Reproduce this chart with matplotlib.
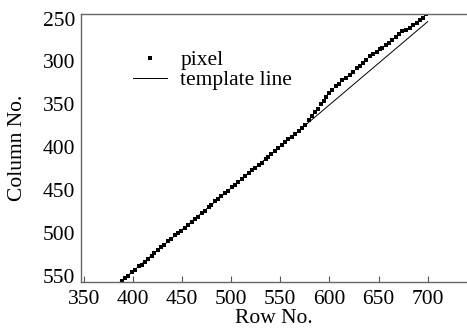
import numpy as np
import matplotlib.pyplot as plt

# pixel positions (row, column)
pixel_row = [389, 392, 395, 399, 402, 406, 409, 412, 415, 419, 422, 426, 429,
             432, 436, 439, 443, 446, 449, 453, 456, 460, 463, 466, 470, 473,
             477, 480, 484, 487, 490, 494, 497, 501, 504, 507, 511, 514, 518,
             521, 524, 528, 531, 535, 538, 541, 545, 548, 552, 555, 558, 562,
             565, 569, 572, 575, 579, 582, 585, 588, 591, 594, 597, 600, 603,
             607, 610, 613, 617, 621, 624, 628, 631, 634, 637, 641, 644, 648,
             651, 654, 658, 661, 664, 668, 671, 674, 678, 682, 685, 689, 692,
             695, 698]
pixel_col = [556, 553, 550, 546, 543, 539, 537, 534, 531, 527, 524, 520, 517,
             514, 510, 507, 503, 500, 498, 494, 491, 487, 484, 481, 477, 474,
             470, 467, 463, 460, 457, 454, 451, 447, 444, 441, 437, 434, 430,
             427, 424, 421, 418, 414, 411, 408, 404, 401, 397, 394, 391, 388,
             385, 381, 378, 374, 368, 364, 359, 355, 350, 346, 341, 337, 333,
             329, 326, 322, 319, 316, 312, 308, 305, 302, 298, 294, 291, 289,
             286, 284, 281, 278, 275, 272, 268, 265, 263, 261, 258, 255, 252,
             249, 245]

# template line end points
line_row = [386, 700]
line_col = [558.5, 253.5]

plt.rcParams['font.family'] = ['Liberation Serif', 'DejaVu Serif']
plt.rcParams['font.size'] = 15.5

fig = plt.figure(figsize=(4.67, 3.28), dpi=100)
ax = fig.add_axes([0.173, 0.14, 0.827, 0.817])

ax.plot(pixel_row, pixel_col, 's', color='black', markersize=2.2,
        markeredgewidth=0, label='pixel')
ax.plot(line_row, line_col, '-', color='black', linewidth=0.7,
        label='template line')

ax.set_xlim(347, 740)
ax.set_ylim(557.5, 244.7)
ax.set_xticks([350, 400, 450, 500, 550, 600, 650, 700])
ax.set_yticks([250, 300, 350, 400, 450, 500, 550])
ax.tick_params(axis='x', direction='in', length=4, width=0.8, colors='#555555',
               labelcolor='black', pad=6)
ax.tick_params(axis='y', length=0, pad=4)
ax.set_xlabel('Row No.', labelpad=0)
ax.set_ylabel('Column No.', labelpad=11)

ax.spines['right'].set_visible(False)
for s in ['top', 'left', 'bottom']:
    ax.spines[s].set_color('#666666')
    ax.spines[s].set_linewidth(1.0)

ax.legend(loc='upper left', bbox_to_anchor=(0.135, 0.866), frameon=False,
          handlelength=1.6, handletextpad=0.6, labelspacing=0.0,
          borderpad=0, borderaxespad=0, fontsize=15.5, markerscale=1.2)

fig.savefig('out.png', dpi=100)
